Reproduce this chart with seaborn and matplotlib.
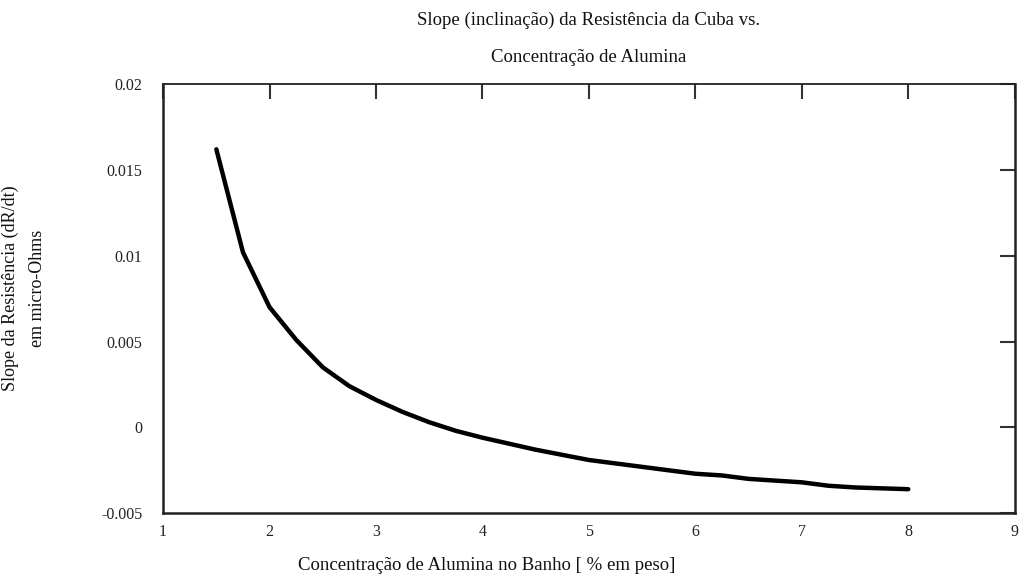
import matplotlib
matplotlib.use("Agg")
import matplotlib.pyplot as plt
import pandas as pd
import seaborn as sns

# data
alumina = [1.5, 1.75, 2.0, 2.25, 2.5, 2.75, 3.0, 3.25, 3.5, 3.75, 4.0, 4.5,
           5.0, 5.5, 6.0, 6.25, 6.5, 7.0, 7.25, 7.5, 8.0]
slope = [0.0162, 0.0102, 0.0070, 0.0051, 0.0035, 0.0024, 0.0016, 0.0009,
         0.0003, -0.0002, -0.0006, -0.0013, -0.0019, -0.0023, -0.0027,
         -0.0028, -0.0030, -0.0032, -0.0034, -0.0035, -0.0036]
x_ticks = [1, 2, 3, 4, 5, 6, 7, 8, 9]
y_ticks = [-0.005, 0, 0.005, 0.01, 0.015, 0.02]
y_tick_labels = ["-0.005", "0", "0.005", "0.01", "0.015", "0.02"]

df = pd.DataFrame({"alumina": alumina, "slope": slope})

sns.set_style("white")
plt.rcParams["font.family"] = ["Liberation Serif", "DejaVu Serif"]

fig = plt.figure(figsize=(10.26, 5.76), dpi=100)
ax = fig.add_axes([0.159, 0.109, 0.83, 0.745])

sns.lineplot(data=df, x="alumina", y="slope", color="black", linewidth=3.2, ax=ax)

ax.set_xlim(1, 9)
ax.set_ylim(-0.005, 0.02)
ax.set_xticks(x_ticks)
ax.set_xticklabels([str(t) for t in x_ticks])
ax.set_yticks(y_ticks)
ax.set_yticklabels(y_tick_labels)
ax.set_xlabel("")
ax.set_ylabel("")

for s in ax.spines.values():
    s.set_visible(True)
    s.set_color("#222222")
    s.set_linewidth(1.8)
ax.spines["top"].set_linewidth(1.3)

ax.tick_params(axis="both", direction="in", length=11, width=1.5, color="#333333",
               top=True, right=True, labelsize=11.5, labelcolor="#222222")
ax.tick_params(axis="x", pad=8)
ax.tick_params(axis="y", pad=15)

fig.text(0.574, 1 - 20 / 576, "Slope (inclinação) da Resistência da Cuba vs.",
         ha="center", va="center", fontsize=13.5, color="#111111")
fig.text(0.574, 1 - 58 / 576, "Concentração de Alumina",
         ha="center", va="center", fontsize=13.5, color="#111111")
fig.text(487 / 1026, 1 - 565 / 576, "Concentração de Alumina no Banho [ % em peso]",
         ha="center", va="center", fontsize=13.5, color="#111111")
fig.text(10 / 1026, 0.5, "Slope da Resistência (dR/dt)", rotation=90,
         ha="center", va="center", fontsize=13, color="#111111")
fig.text(38 / 1026, 0.5, "em micro-Ohms", rotation=90,
         ha="center", va="center", fontsize=13, color="#111111")

fig.savefig("out.png", dpi=100)
